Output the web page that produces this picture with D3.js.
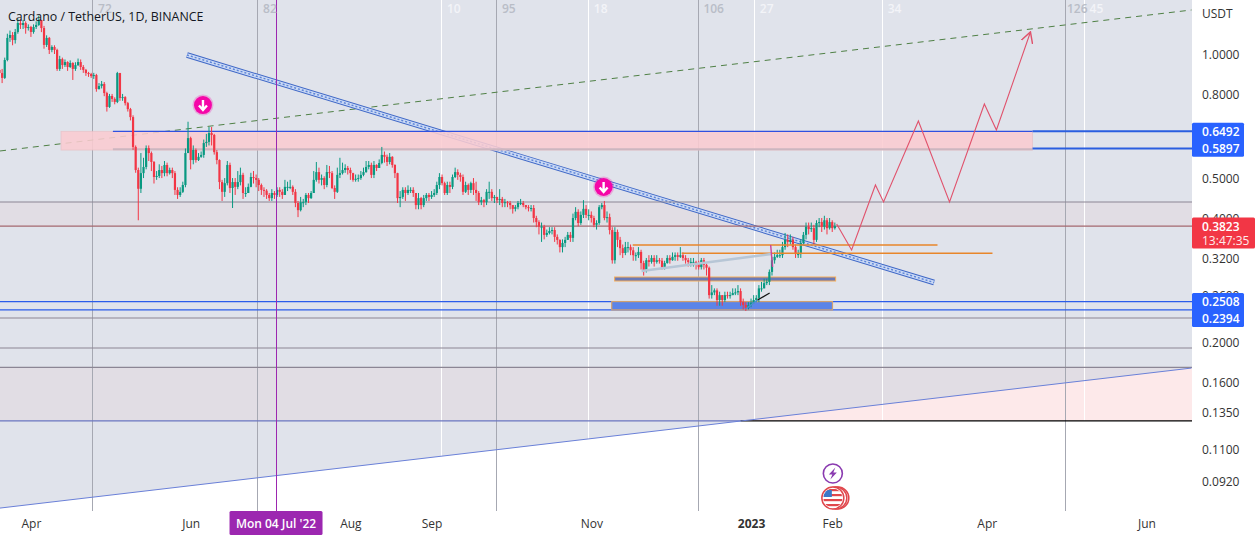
<!DOCTYPE html>
<html><head><meta charset="utf-8">
<script src="https://cdnjs.cloudflare.com/ajax/libs/d3/7.8.5/d3.min.js"></script>
<style>html,body{margin:0;padding:0;background:#fff;overflow:hidden}svg{display:block}text{font-family:"Open Sans",sans-serif}</style>
</head><body><svg id="c" width="1260" height="539"></svg>
<script>
const title = "Cardano / TetherUS, 1D, BINANCE";
const firstDate = new Date(2022, 2, 20);
const firstOpen = 0.915;
const closes = [.899,.875,.967,1.094,1.112,1.081,1.131,1.189,1.176,1.189,1.156,1.163,1.131,1.163,1.176,1.209,1.156,1.052,1.094,1.023,
1.040,1.023,.920,.972,.940,.956,.930,.951,.920,.940,.956,.930,.915,.899,.894,.884,.889,.822,.836,.846,
.804,.744,.791,.778,.765,.899,.782,.786,.760,.735,.703,.595,.523,.471,.514,.532,.591,.575,.547,.503,
.506,.523,.514,.538,.514,.523,.514,.468,.455,.463,.481,.575,.625,.553,.585,.553,.563,.569,.608,.612,
.643,.636,.578,.553,.489,.463,.486,.538,.473,.489,.476,.489,.509,.460,.460,.476,.503,.500,.495,.481,
.468,.466,.455,.447,.460,.455,.468,.463,.455,.476,.476,.476,.463,.435,.418,.437,.437,.455,.447,.460,
.495,.517,.495,.500,.481,.517,.514,.473,.463,.509,.514,.523,.529,.523,.514,.495,.498,.500,.509,.517,
.532,.538,.509,.538,.529,.544,.569,.563,.547,.563,.538,.514,.447,.450,.468,.460,.468,.468,.460,.430,
.447,.430,.447,.455,.450,.455,.460,.481,.503,.486,.460,.481,.476,.503,.517,.509,.503,.463,.481,.468,
.486,.468,.460,.437,.442,.437,.463,.463,.447,.450,.442,.445,.435,.437,.435,.430,.421,.425,.435,.435,
.430,.425,.423,.423,.400,.391,.381,.381,.364,.368,.372,.374,.360,.354,.340,.348,.354,.364,.358,.400,
.414,.389,.407,.421,.407,.407,.400,.385,.389,.425,.430,.400,.402,.374,.316,.370,.354,.338,.329,.340,
.340,.334,.325,.325,.331,.311,.299,.316,.313,.320,.313,.316,.315,.304,.311,.320,.316,.322,.325,.322,
.325,.320,.316,.313,.313,.313,.310,.304,.316,.308,.303,.260,.264,.267,.253,.260,.253,.260,.259,.260,
.263,.264,.266,.250,.246,.242,.246,.249,.253,.256,.270,.270,.278,.280,.296,.316,.322,.325,.325,.340,
.354,.350,.354,.340,.327,.327,.348,.364,.381,.376,.378,.354,.389,.391,.381,.395,.378,.391,.378,.3823];
const highs = [.93,.92,.98,1.12,1.14,1.13,1.15,1.22,1.21,1.21,1.20,1.18,1.17,1.18,1.20,1.24,1.21,1.17,1.11,1.10,
1.05,1.05,1.03,.99,.98,.97,.96,.965,.955,.955,.975,.97,.94,.92,.905,.90,.90,.895,.85,.86,
.855,.81,.80,.80,.785,.905,.90,.80,.79,.765,.74,.71,.60,.53,.575,.56,.60,.60,.58,.55,
.52,.54,.535,.55,.545,.53,.53,.52,.475,.475,.49,.59,.685,.63,.60,.59,.575,.58,.62,.64,
.665,.665,.64,.585,.555,.495,.50,.55,.545,.50,.50,.52,.53,.515,.475,.485,.515,.52,.51,.50,
.485,.475,.47,.46,.47,.465,.475,.475,.47,.495,.49,.495,.48,.47,.44,.45,.445,.46,.46,.465,
.52,.547,.53,.51,.505,.538,.535,.52,.48,.53,.56,.545,.54,.535,.53,.515,.51,.51,.52,.53,
.55,.55,.545,.55,.54,.555,.595,.58,.57,.575,.565,.54,.515,.465,.475,.475,.48,.475,.475,.46,
.46,.45,.455,.46,.46,.465,.47,.49,.514,.51,.49,.49,.49,.51,.53,.525,.515,.51,.49,.485,
.49,.50,.49,.465,.45,.445,.47,.49,.47,.455,.45,.47,.45,.445,.44,.44,.43,.43,.44,.445,
.44,.43,.43,.43,.43,.405,.395,.39,.385,.375,.38,.38,.38,.365,.355,.355,.36,.37,.37,.41,
.425,.42,.415,.442,.43,.42,.415,.405,.395,.43,.435,.44,.415,.41,.38,.38,.375,.36,.345,.35,
.35,.345,.34,.33,.34,.335,.315,.32,.325,.325,.325,.325,.32,.32,.315,.325,.325,.33,.33,.33,
.34,.33,.325,.32,.32,.32,.315,.315,.32,.32,.31,.305,.275,.27,.27,.265,.26,.265,.265,.265,
.27,.27,.275,.27,.255,.25,.25,.255,.26,.26,.275,.28,.285,.285,.30,.322,.33,.335,.335,.35,
.368,.365,.365,.36,.345,.335,.355,.37,.39,.39,.39,.385,.395,.40,.40,.405,.40,.40,.395,.39];
const lows = [.85,.85,.87,.96,1.07,1.05,1.06,1.12,1.15,1.15,1.12,1.14,1.10,1.12,1.15,1.17,1.13,1.03,1.04,1.00,
1.01,1.00,.91,.91,.92,.93,.91,.925,.865,.91,.935,.915,.90,.885,.88,.875,.87,.81,.82,.825,
.79,.725,.74,.765,.755,.76,.77,.77,.75,.725,.69,.585,.515,.395,.46,.50,.525,.55,.52,.485,
.495,.50,.50,.505,.505,.51,.50,.455,.445,.45,.46,.475,.58,.525,.54,.545,.55,.56,.56,.595,
.60,.60,.57,.54,.47,.44,.45,.48,.46,.423,.455,.47,.48,.445,.45,.46,.475,.485,.475,.465,
.455,.45,.445,.44,.44,.445,.45,.45,.445,.46,.465,.47,.455,.425,.402,.415,.425,.43,.435,.445,
.46,.49,.485,.48,.47,.475,.50,.47,.445,.46,.50,.51,.515,.51,.495,.49,.49,.49,.495,.505,
.515,.525,.50,.50,.52,.53,.54,.545,.535,.54,.53,.50,.435,.425,.445,.44,.455,.46,.45,.42,
.42,.42,.425,.44,.44,.445,.45,.455,.47,.48,.455,.455,.46,.47,.50,.495,.49,.455,.46,.455,
.46,.455,.44,.43,.43,.425,.43,.445,.44,.435,.435,.43,.425,.425,.425,.42,.41,.415,.42,.43,
.425,.42,.415,.415,.39,.38,.365,.35,.355,.36,.365,.365,.35,.345,.33,.33,.34,.355,.35,.35,
.395,.382,.385,.40,.40,.395,.39,.38,.375,.385,.42,.395,.39,.365,.31,.31,.34,.325,.32,.325,
.33,.325,.315,.315,.32,.30,.29,.295,.305,.31,.305,.31,.31,.30,.30,.31,.31,.315,.315,.315,
.32,.315,.31,.305,.305,.305,.30,.30,.30,.30,.29,.255,.255,.26,.245,.245,.245,.25,.255,.255,
.26,.26,.26,.245,.24,.238,.24,.243,.248,.25,.25,.265,.27,.275,.275,.29,.31,.32,.32,.32,
.335,.34,.345,.335,.32,.32,.32,.345,.355,.365,.37,.345,.35,.38,.37,.375,.365,.375,.37,.375];

const priceTicks = [1,.8,.5,.4,.32,.26,.2,.16,.135,.11,.092];
const monthTicks = [["Apr",new Date(2022,3,1)],["Jun",new Date(2022,5,1)],["Aug",new Date(2022,7,1)],["Sep",new Date(2022,8,1)],["Nov",new Date(2022,10,1)],["2023",new Date(2023,0,1)],["Feb",new Date(2023,1,1)],["Apr",new Date(2023,3,1)],["Jun",new Date(2023,5,1)]];

// Annotations: day number after firstDate, and price
const grayDays = [35.7,98.7,189.9,267,407], grayLabels = ["72","82","95","106","126"];
const whiteDays = [168.9,225,288.4,337.2,414.3], whiteLabels = ["10","18","27","34","45"];
const cursorDay = 105.6, cursorLabel = "Mon 04 Jul '22";
const dashedTrend = [[.2,.5817],[455.2,1.2787]];
const channel = [[71.6,.9944],[356.9,.2790]];
const support = [[0,.0791],[455.2,.1730]];
const forecast = [[319.7,.3869],[325.4,.3346],[334.5,.4810],[337.6,.4375],[350.9,.6878],[362.8,.4375],[376.1,.7563],[380.7,.6540],[393.7,1.1308]];
const greyLines = [.4375,.2289,.1935,.1737];
const lastPrice = .3823, countdown = "13:47:35";
const bandTop = [.4375,.3823], bandLow = [.1737,.1288];
const zoneHigh = .6492, zoneLow = .5897, zoneStart = 23.5, zoneEnd = 394.5, zoneLine = 43.3;
const lowerHigh = .2508, lowerLow = .2394, lowerStart = 233.8, lowerEnd = 318.1;
const barPrice = .2845, barStart = 234.9, barEnd = 319.3;
const orangeLines = [[.3440,241.8,358.2],[.3284,260.5,379.2]];
const paleLine = [[245.2,.2975],[294.8,.3272]];
const pinkLine = [[294.5,.3440],[295.2,.3042]];
const blackLine = [[289.5,.2530],[294.1,.2631]];
const blueLine = [[284.9,.2406],[289.5,.2530]];
const downMarks = [[77.7,.752],[230.7,.4757]];
const blackBaseStart = 283;

const W=1260,H=539,PW=1192,PH=511;
const x=d3.scaleLinear().domain([0,455.2]).range([-.5,PW-.5]);
const y=d3.scaleLog().domain([1,.1]).range([54,54+179*Math.LN10]);
const svg=d3.select("#c");
const line=d3.line().x(d=>x(d[0])).y(d=>y(d[1]));
const defs=svg.append("defs");
defs.append("clipPath").attr("id","plot").append("rect").attr("width",PW).attr("height",PH);
const upperPts=[[x(0),0],[PW,0],[PW,y(support[1][1])],[x(0),y(support[0][1])]];
defs.append("clipPath").attr("id","upper").append("polygon").attr("points",upperPts.map(p=>p.join(",")).join(" "));
const mk=defs.append("marker").attr("id","ah").attr("viewBox","0 0 10 10").attr("refX",9).attr("refY",5).attr("markerWidth",12).attr("markerHeight",12).attr("markerUnits","userSpaceOnUse").attr("orient","auto");
mk.append("path").attr("d","M0,0L9,5L0,10").attr("fill","none").attr("stroke","#e0526c").attr("stroke-width",1.2);
const g=svg.append("g").attr("clip-path","url(#plot)");
g.append("rect").attr("width",PW).attr("height",PH).attr("fill","#fff");
// lower band (pink on white)
g.append("rect").attr("x",0).attr("width",PW).attr("y",y(bandLow[0])).attr("height",y(bandLow[1])-y(bandLow[0])).attr("fill","#fde9ea");
g.append("polygon").attr("points",upperPts.map(p=>p.join(",")).join(" ")).attr("fill","#e0e3eb");
const up=g.append("g").attr("clip-path","url(#upper)");
[bandTop,bandLow].forEach(b=>up.append("rect").attr("x",0).attr("width",PW).attr("y",y(b[0])).attr("height",y(b[1])-y(b[0])).attr("fill","#f23645").attr("opacity",.035));
// verticals
const vLine=(d,c,w)=>g.append("line").attr("x1",x(d)).attr("x2",x(d)).attr("y1",0).attr("y2",PH).attr("stroke",c).attr("stroke-width",w).attr("shape-rendering","crispEdges");
whiteDays.forEach(d=>vLine(d,"#fff",1));
grayDays.forEach(d=>vLine(d,"#a6a8b2",1));
grayDays.forEach((d,i)=>svg.append("text").attr("x",x(d)+(i==3?15:12)).attr("y",13).attr("text-anchor","middle").attr("font-size",12).attr("font-weight",600).attr("fill","#b9bdc7").text(grayLabels[i]));
whiteDays.forEach((d,i)=>svg.append("text").attr("x",x(d)+12).attr("y",13).attr("text-anchor","middle").attr("font-size",12).attr("font-weight",600).attr("fill","#f3f4f8").text(whiteLabels[i]));
// dashed
g.append("path").attr("d",line(dashedTrend)).attr("fill","none").attr("stroke","#4f8045").attr("stroke-width",1).attr("stroke-dasharray","6 5");
// channel
[["#3d66c6",5.5,null],["#c9d8f4",3.6,null],["#5c84d8",1.4,"2 2"]].forEach(s=>{
  g.append("path").attr("d",line(channel)).attr("fill","none").attr("stroke",s[0]).attr("stroke-width",s[1]).attr("stroke-dasharray",s[2]);});
// zone
g.append("rect").attr("x",x(zoneStart)).attr("width",x(zoneEnd)-x(zoneStart)).attr("y",y(zoneHigh)).attr("height",y(zoneLow)-y(zoneHigh)+1.5).attr("fill","#fbccd1").attr("stroke","#e9c0c6").attr("stroke-width",.8).attr("opacity",.87);
const hLine=(x1,x2,p,c,w,off)=>g.append("line").attr("x1",x1).attr("x2",x2).attr("y1",y(p)+(off||0)).attr("y2",y(p)+(off||0)).attr("stroke",c).attr("stroke-width",w);
hLine(x(zoneLine),x(zoneEnd),zoneLow,"#cdb6c0",2,.7);
hLine(x(zoneLine),x(zoneEnd),zoneHigh,"#3050e0",1.3);
hLine(x(zoneEnd),PW,zoneHigh,"#2a5ee0",2);
hLine(x(zoneEnd),PW,zoneLow,"#2a5ee0",2);
// horizontals
greyLines.forEach(p=>hLine(0,PW,p,"#8b8694",1.1));
hLine(0,PW,lastPrice,"#a5686f",1.1);
hLine(0,x(blackBaseStart),bandLow[1],"#6a76c0",1.1);
hLine(x(blackBaseStart),PW,bandLow[1],"#000",1.2);
[lowerHigh,lowerLow].forEach(p=>hLine(0,PW,p,"#2b5cea",1.2));
g.append("path").attr("d",line(support)).attr("fill","none").attr("stroke","#6a80d8").attr("stroke-width",1);
// boxes under the candles
g.append("rect").attr("x",x(barStart)).attr("width",x(barEnd)-x(barStart)).attr("y",y(barPrice)-2).attr("height",4).attr("fill","#6a7ab8").attr("stroke","#f6ac57").attr("stroke-width",1);
g.append("rect").attr("x",x(lowerStart)).attr("width",x(lowerEnd)-x(lowerStart)).attr("y",y(lowerHigh)).attr("height",y(lowerLow)-y(lowerHigh)).attr("fill","#5b84e8").attr("stroke","#d0a070").attr("stroke-width",1.2);
// candles
const candles=closes.map((c,i)=>{const o=i?closes[i-1]:firstOpen;return {i,o,c,h:Math.max(highs[i],o,c),l:Math.min(lows[i],o,c)};});
const cg=g.append("g");
cg.selectAll("line").data(candles).join("line").attr("x1",d=>x(d.i)).attr("x2",d=>x(d.i)).attr("y1",d=>y(d.h)).attr("y2",d=>y(d.l)).attr("stroke",d=>d.c>=d.o?"#089981":"#f23645").attr("stroke-width",1);
cg.selectAll("rect").data(candles).join("rect").attr("x",d=>x(d.i)-1.1).attr("width",2.2).attr("y",d=>y(Math.max(d.o,d.c))).attr("height",d=>Math.max(1,Math.abs(y(d.o)-y(d.c)))).attr("fill",d=>d.c>=d.o?"#089981":"#f23645");
// orange etc.
orangeLines.forEach(r=>hLine(x(r[1]),x(r[2]),r[0],"#e8862a",1.4));
g.append("path").attr("d",line(paleLine)).attr("fill","none").attr("stroke","#b7c6d6").attr("stroke-width",2.5);
g.append("path").attr("d",line(pinkLine)).attr("fill","none").attr("stroke","#c8409a").attr("stroke-width",1.4);
g.append("path").attr("d",line(blueLine)).attr("fill","none").attr("stroke","#4b8fd0").attr("stroke-width",1.4);
g.append("path").attr("d",line(blackLine)).attr("fill","none").attr("stroke","#111").attr("stroke-width",1.2);
g.append("path").attr("d",line(forecast)).attr("fill","none").attr("stroke","#e0526c").attr("stroke-width",1.1).attr("marker-end","url(#ah)");
// cursor
vLine(cursorDay,"#9c27b0",1);
// markers
downMarks.forEach(m=>{
  const t=g.append("g").attr("transform",`translate(${x(m[0])},${y(m[1])})`);
  t.append("circle").attr("r",10.5).attr("fill","#f507a8").attr("opacity",.25);
  t.append("circle").attr("r",9).attr("fill","#f507a8");
  t.append("path").attr("d","M0,-5V4M-4,0.5L0,5L4,0.5").attr("fill","none").attr("stroke","#fff").attr("stroke-width",2.4);
});
// event icons
const ix=x(closes.length-1)-2;
const e1=g.append("g").attr("transform",`translate(${ix},473.5)`);
e1.append("circle").attr("r",9.5).attr("fill","#fff").attr("stroke","#8a3ab0").attr("stroke-width",1.6);
e1.append("path").attr("d","M2.5,-6L-4,1H-.5L-2.5,6L4,-1H.5Z").attr("fill","#8a3ab0");
const e2=g.append("g").attr("transform",`translate(${ix+2},498)`);
[5,3,0].forEach(dx=>e2.append("circle").attr("cx",dx-2).attr("r",11).attr("fill","#fff").attr("stroke","#e0474c").attr("stroke-width",1.5));
defs.append("clipPath").attr("id","flag").append("circle").attr("cx",-2).attr("r",9.6);
const fl=e2.append("g").attr("clip-path","url(#flag)");
[-8,-3,2,7].forEach(v=>fl.append("rect").attr("x",-12).attr("width",22).attr("y",v-1).attr("height",2.2).attr("fill","#e0474c"));
fl.append("rect").attr("x",-12).attr("y",-8).attr("width",9).attr("height",7).attr("fill","#3c78c8");
// axes
const yAxis=d3.axisRight(y).tickValues(priceTicks).tickFormat(d3.format(".4f")).tickSize(0).tickPadding(10);
const ya=svg.append("g").attr("transform",`translate(${PW},0)`).call(yAxis);
ya.select(".domain").remove();
ya.selectAll("text").attr("font-size",12).attr("fill","#333").attr("dy","0.34em").style("font-family","'Open Sans',sans-serif");
svg.append("text").attr("x",1202).attr("y",18).attr("font-size",12).attr("fill","#333").text("USDT");
const toDay=d=>d3.timeDay.count(firstDate,d);
const xAxis=d3.axisBottom(x).tickValues(monthTicks.map(m=>toDay(m[1]))).tickFormat((d,i)=>monthTicks[i][0]).tickSize(0).tickPadding(8);
const xa=svg.append("g").attr("transform",`translate(0,${PH})`).call(xAxis);
xa.select(".domain").remove();
xa.selectAll("text").attr("font-size",12).attr("fill","#333").style("font-family","'Open Sans',sans-serif")
  .attr("font-weight",(d,i)=>monthTicks[i][0]=="2023"?700:400);
// title
svg.append("text").attr("x",8).attr("y",21).attr("font-size",12.4).attr("font-weight",500).attr("fill","#131722").text(title);
// price tags
function tag(y0,h,w,fill){svg.append("rect").attr("x",PW).attr("y",y0).attr("width",w).attr("height",h).attr("rx",1.5).attr("fill",fill);}
function tagText(t,yy,fw,op){svg.append("text").attr("x",PW+10).attr("y",yy+4.5).attr("font-size",12).attr("font-weight",fw).attr("fill","#fff").attr("opacity",op||1).text(t);}
const fmt=d3.format(".4f");
tag(y(zoneHigh)-8.5,34,52,"#2962ff");tagText(fmt(zoneHigh),y(zoneHigh),600);tagText(fmt(zoneLow),y(zoneLow),600);
tag(y(lastPrice)-8.5,31,63,"#f23645");tagText(fmt(lastPrice),y(lastPrice),600);tagText(countdown,y(lastPrice)+14,400,.9);
tag(y(lowerHigh)-8.5,34,52,"#2962ff");tagText(fmt(lowerHigh),y(lowerHigh),600);tagText(fmt(lowerLow),y(lowerHigh)+17,600);
// date tag
const cx=x(cursorDay);
svg.append("rect").attr("x",cx-46.5).attr("y",PH).attr("width",93).attr("height",24).attr("rx",1.5).attr("fill","#9c27b0");
svg.append("text").attr("x",cx).attr("y",PH+17).attr("text-anchor","middle").attr("font-size",12).attr("font-weight",600).attr("fill","#fff").text(cursorLabel);
</script></body></html>
